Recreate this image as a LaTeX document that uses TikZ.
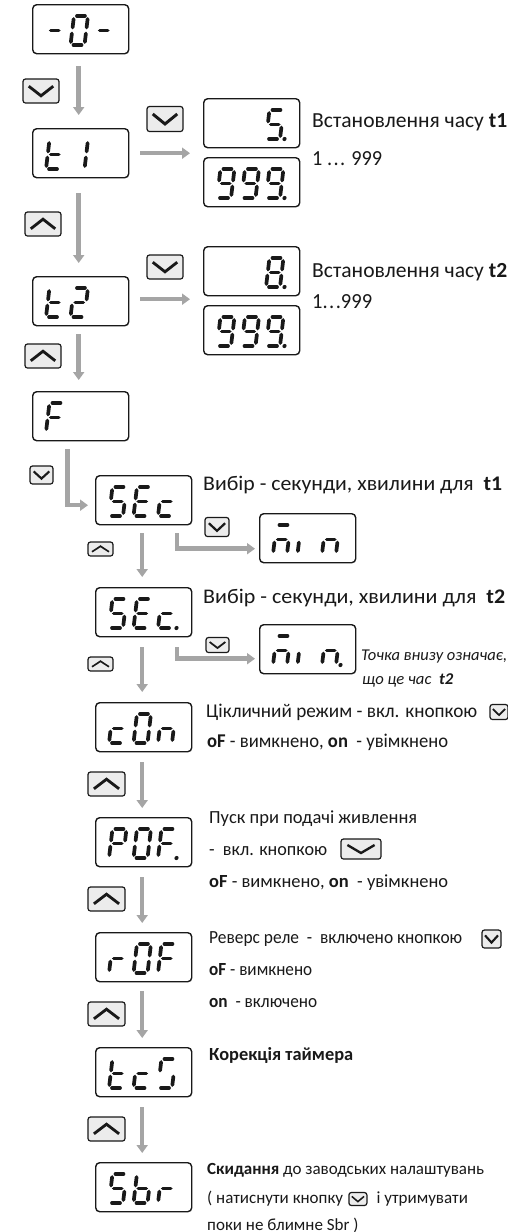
\documentclass[tikz,border=0pt]{standalone}
\usepackage{fontspec}
\usepackage{graphicx}
\setmainfont{Carlito}
\usetikzlibrary{arrows.meta}
\definecolor{arrg}{RGB}{165,165,165}
\definecolor{keyfill}{RGB}{236,236,236}
\definecolor{ink}{RGB}{25,25,25}
\tikzset{
 lcd/.style={draw=ink, line width=1.4pt, rounded corners=4pt, minimum width=96pt, minimum height=49pt, inner sep=0, anchor=north west},
 seg/.style={line width=3.7pt, line cap=round, draw=ink},
 key/.style={draw=ink, fill=keyfill, line width=1.2pt, rounded corners=2.5pt, inner sep=0},
 chev/.style={draw=ink, line join=miter},
 flow/.style={draw=arrg, line width=4.5pt, -{Triangle[width=11pt,length=8pt]}},
 txt/.style={anchor=base west, inner sep=0, text=ink},
 stxt/.style={anchor=base west, inner sep=0, text=ink, font=\fontsize{17}{19}\selectfont},
}
% width, font size, text
\newcommand\fitw[3]{\resizebox{#1pt}{\height}{\fontsize{#2}{#2}\selectfont #3}}
\def\SGa{\draw[seg] (3,-29)--(11,-29);}
\def\SGb{\draw[seg] (14,-26)--(14,-17.5);}
\def\SGc{\draw[seg] (14,-11.5)--(14,-3);}
\def\SGd{\draw[seg] (3,0)--(11,0);}
\def\SGe{\draw[seg] (0,-11.5)--(0,-3);}
\def\SGf{\draw[seg] (0,-26)--(0,-17.5);}
\def\SGg{\draw[seg] (3,-14.5)--(11,-14.5);}
\def\SGp{\fill[ink] (18.5,0) circle (2.1);}
\newcommand\dg[3]{\begin{scope}[shift={(#1,#2)},xslant=0.12]\foreach \s in {#3}{\csname SG\s\endcsname}\end{scope}}
\newcommand\lcdbox[6]{\node[lcd] (#1) at (#2,#3) {};
 \dg{#2+14}{#3+41}{#4}\dg{#2+38.5}{#3+41}{#5}\dg{#2+63}{#3+41}{#6}}
% chevrons: name, w, h
\newcommand\chevd[3]{\draw[chev, line width=#3/8.5, shift={(#1.center)}] (-0.34*#2,-0.2*#3) -- (0,0.2*#3) -- (0.34*#2,-0.2*#3);}
\newcommand\chevu[3]{\draw[chev, line width=#3/8.5, shift={(#1.center)}] (-0.34*#2,0.2*#3) -- (0,-0.2*#3) -- (0.34*#2,0.2*#3);}
\newcommand\keyd[5]{\node[key, minimum width=#4, minimum height=#5] (#1) at (#2,#3) {};\chevd{#1}{#4}{#5}}
\newcommand\keyu[5]{\node[key, minimum width=#4, minimum height=#5] (#1) at (#2,#3) {};\chevu{#1}{#4}{#5}}
\begin{document}
\begin{tikzpicture}[x=1pt,y=-1pt]
\useasboundingbox[fill=white] (0,0) rectangle (508,1232);
% left column
\lcdbox{d0}{32}{4}{g}{a,b,c,d,e,f}{g}
\lcdbox{t1}{32}{128}{d,e,f,g}{b,c}{}
\lcdbox{t2}{32}{276}{d,e,f,g}{a,b,g,e,d}{}
\lcdbox{fF}{32}{391}{a,f,g,e}{}{}
% right column
\lcdbox{r1}{203}{98}{}{}{a,f,g,c,d,p}
\lcdbox{r2}{203}{157}{a,b,c,d,f,g}{a,b,c,d,f,g}{a,b,c,d,f,g,p}
\lcdbox{r3}{203}{246}{}{}{a,b,c,d,e,f,g,p}
\lcdbox{r4}{203}{305}{a,b,c,d,f,g}{a,b,c,d,f,g}{a,b,c,d,f,g,p}
% middle column
\lcdbox{s1}{95}{475}{a,f,g,c,d}{a,f,g,e,d}{g,e,d}
\lcdbox{s2}{95}{587}{a,f,g,c,d}{a,f,g,e,d}{g,e,d,p}
\lcdbox{m1}{259}{513}{a,e,g,c}{e}{e,g,c}
\lcdbox{m2}{259}{624}{a,e,g,c}{e}{e,g,c,p}
\lcdbox{cn}{95}{702}{g,e,d}{a,b,c,d,e,f}{e,g,c}
\lcdbox{pf}{95}{817}{a,b,e,f,g}{a,b,c,d,e,f}{a,f,g,e,p}
\lcdbox{rf}{95}{932}{e,g}{a,b,c,d,e,f}{a,f,g,e}
\lcdbox{tc}{95}{1047}{d,e,f,g}{g,e,d}{a,f,c,d}
\lcdbox{sb}{95}{1162}{a,f,g,c,d}{f,e,g,c,d}{e,g}
% keys
\keyd{k1}{41}{91}{36}{24}
\keyd{k2}{165}{119}{36}{25}
\keyu{k3}{43}{224}{36}{24}
\keyd{k4}{165}{267}{36}{24}
\keyu{k5}{43}{356}{36}{24}
\keyd{k6}{41.5}{475}{23}{18}
\keyd{k7}{217}{527}{24}{19}
\keyu{k8}{100.5}{549}{25}{14}
\keyd{k9}{217.5}{645}{23}{15}
\keyu{k10}{100.5}{664}{25}{14}
\keyu{k11}{106.5}{784}{37}{24}
\keyu{k12}{106.5}{899}{37}{24}
\keyu{k13}{106.5}{1014}{37}{24}
\keyu{k14}{106.5}{1129}{37}{24}
% arrows
\draw[flow] ([xshift=-2pt,yshift=-12pt]d0.south) -- ([xshift=-2pt,yshift=13pt]t1.north);
\draw[flow] ([xshift=-2pt,yshift=-15pt]t1.south) -- ([xshift=-2pt,yshift=13pt]t2.north);
\draw[flow] ([xshift=-2pt,yshift=-8pt]t2.south) -- ([xshift=-2pt,yshift=11pt]fF.north);
\draw[flow] ([xshift=-13pt,yshift=-8pt]fF.south) |- ([xshift=-7pt,yshift=-5pt]s1.west);
\draw[flow] ([xshift=11pt]t1.east) -- ([xshift=-13pt]t1.east -| r1.west);
\draw[flow] ([xshift=11pt,yshift=2pt]t2.east) -- ([xshift=-13pt,yshift=2pt]t2.east -| r3.west);
\draw[flow] ([xshift=33.5pt,yshift=-8pt]s1.south) |- ([xshift=-4pt,yshift=-10.5pt]m1.west);
\draw[flow] ([xshift=33.5pt,yshift=-10pt]s2.south) |- ([xshift=-4pt,yshift=-9.5pt]m2.west);
\draw[flow] ([xshift=-1.5pt,yshift=-8pt]s1.south) -- ([xshift=-1.5pt,yshift=10pt]s2.north);
\draw[flow] ([xshift=-1.5pt,yshift=-10pt]s2.south) -- ([xshift=-1.5pt,yshift=10pt]cn.north);
\draw[flow] ([xshift=-1.5pt,yshift=-10pt]cn.south) -- ([xshift=-1.5pt,yshift=9pt]pf.north);
\draw[flow] ([xshift=-1.5pt,yshift=-10pt]pf.south) -- ([xshift=-1.5pt,yshift=9pt]rf.north);
\draw[flow] ([xshift=-1.5pt,yshift=-9pt]rf.south) -- ([xshift=-1.5pt,yshift=9pt]tc.north);
\draw[flow] ([xshift=-1.5pt,yshift=-10pt]tc.south) -- ([xshift=-1.5pt,yshift=9pt]sb.north);
% texts
\node[txt] (x1) at (312,127) {\fitw{195}{21.5}{Встановлення часу \textbf{t1}}};
\node[txt] (x2) at (312,165) {\fitw{70}{21.5}{1 .\kern1.5pt.\kern1.5pt. 999}};
\node[txt] (x3) at (312,277) {\fitw{195}{21.5}{Встановлення часу \textbf{t2}}};
\node[txt] (x4) at (312,308) {\fitw{60}{21.5}{1.\kern1.5pt.\kern1.5pt.999}};
\node[txt] (x5) at (203,490) {\fitw{299}{20.8}{Вибір - секунди, хвилини для\ \ \textbf{t1}}};
\node[txt] (x6) at (203,603) {\fitw{302}{20.8}{Вибір - секунди, хвилини для\ \ \textbf{t2}}};
\node[txt] (x7) at (361,660) {\fitw{146}{16.5}{\itshape Точка внизу означає,}};
\node[txt] (x8) at (362,684) {\fitw{91}{16.5}{\itshape що це час\ \ \textbf{t2}}};
\node[txt] (x9) at (206,717) {\fitw{271}{19.5}{Цікличний режим - вкл. кнопкою}};
\node[key, minimum width=18, minimum height=15, anchor=west] (ki1) at ([xshift=12pt,yshift=5pt]x9.base east) {};
\chevd{ki1}{18}{15}
\node[txt] (x10) at (207,747) {\fitw{241}{19.5}{\textbf{oF} - вимкнено, \textbf{on}\ \ - увімкнено}};
\node[txt] (x11) at (209,823) {\fitw{208}{18.5}{Пуск при подачі живлення}};
\node[txt] (x12) at (209,855) {\fitw{118}{18.5}{-\ \ вкл. кнопкою}};
\node[key, minimum width=40, minimum height=20, anchor=west] (ki2) at ([xshift=13pt,yshift=6pt]x12.base east) {};
\chevd{ki2}{40}{20}
\node[txt] (x13) at (209,887) {\fitw{239}{18.5}{\textbf{oF} - вимкнено, \textbf{on}\ \ - увімкнено}};
\node[txt] (x14) at (209,943) {\fitw{253}{18.5}{Реверс реле\ \ -\ \ включено кнопкою}};
\node[key, minimum width=19, minimum height=18, anchor=west] (ki3) at ([xshift=19pt,yshift=4pt]x14.base east) {};
\chevd{ki3}{19}{18}
\node[txt] (x15) at (209,975) {\fitw{103}{18.5}{\textbf{oF} - вимкнено}};
\node[txt] (x16) at (209,1007) {\fitw{108}{18.5}{\textbf{on}\ \ - включено}};
\node[txt] (x17) at (209,1060) {\fitw{144}{18.5}{\textbf{Корекція таймера}}};
\node[stxt] (x18) at (207,1174) {\textbf{Скидання} до заводських налаштувань};
\node[stxt] (x19) at (207,1203) {( натиснути кнопку};
\node[key, minimum width=18, minimum height=13, anchor=west] (ki4) at ([xshift=5pt,yshift=4pt]x19.base east) {};
\chevd{ki4}{18}{13}
\node[stxt, anchor=base west] (x20) at ([xshift=9pt]x19.base east -| ki4.east) {і утримувати};
\node[stxt] (x21) at (207,1230) {поки не блимне Sbr )};
\end{tikzpicture}
\end{document}
